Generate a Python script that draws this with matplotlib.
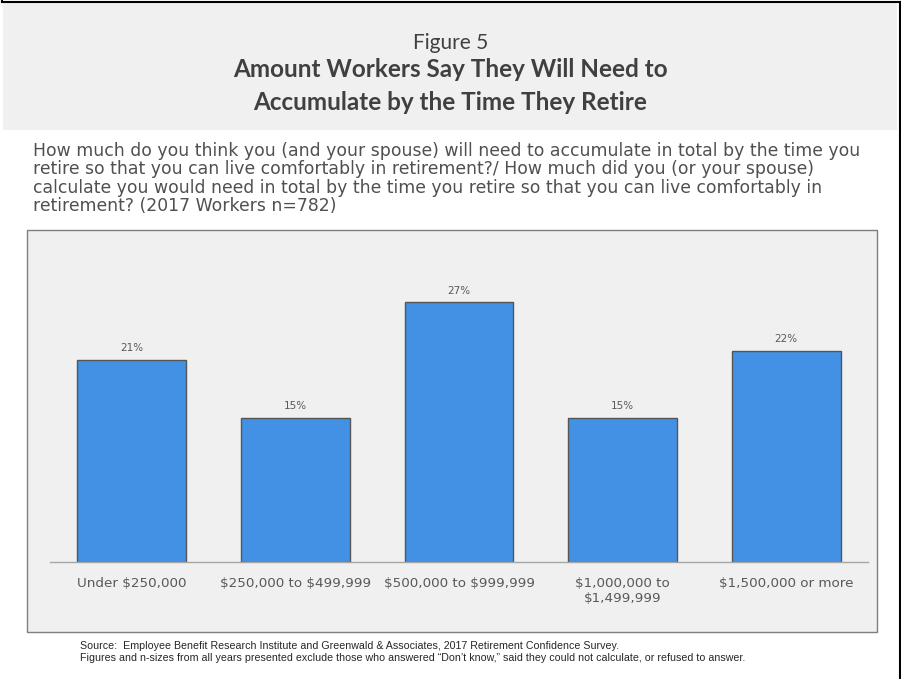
import matplotlib
matplotlib.use("Agg")
import matplotlib.pyplot as plt
from matplotlib.patches import Rectangle
from matplotlib.lines import Line2D

# data
categories = ["Under $250,000", "$250,000 to $499,999", "$500,000 to $999,999",
              "$1,000,000 to\n$1,499,999", "$1,500,000 or more"]
values = [21, 15, 27, 15, 22]

W, H = 901, 679
plt.rcParams['font.family'] = ['DejaVu Sans']
plt.rcParams['text.parse_math'] = False

fig = plt.figure(figsize=(W / 100, H / 100), dpi=100)
fig.patch.set_facecolor("white")

def fx(px):
    return px / W

def fy(py):
    return 1 - py / H

# outer frame (left, top, right)
for xs, ys in [([1.5, 1.5], [0, 1.5]), ([1.5, 899.5], [1.5, 1.5]), ([899.5, 899.5], [1.5, H])]:
    fig.add_artist(Line2D([fx(x) for x in xs], [fy(y) for y in ys], color="black", lw=1.5))

# header band
fig.add_artist(Rectangle((fx(3), fy(130)), fx(894), (127) / H, facecolor="#f0f0f0",
                         edgecolor="none", transform=fig.transFigure, zorder=0))
fig.text(0.5, fy(43), "Figure 5", ha="center", va="center", fontsize=15, color="#404040",
         family="Lato")
fig.text(0.5, fy(86), "Amount Workers Say They Will Need to\nAccumulate by the Time They Retire",
         ha="center", va="center", fontsize=17.5, fontweight="bold", color="#404040",
         linespacing=1.5, family="Lato")

question = ("How much do you think you (and your spouse) will need to accumulate in total by the time you\n"
            "retire so that you can live comfortably in retirement?/ How much did you (or your spouse)\n"
            "calculate you would need in total by the time you retire so that you can live comfortably in\n"
            "retirement? (2017 Workers n=782)")
fig.text(fx(33), fy(142), question, ha="left", va="top", fontsize=12.4, color="#505050",
         linespacing=1.03)

# chart panel
fig.add_artist(Rectangle((fx(27), fy(632)), fx(850), (632 - 230) / H, facecolor="#f0f0f0",
                         edgecolor="#7f7f7f", lw=1, transform=fig.transFigure, zorder=0))

ax = fig.add_axes([fx(50), fy(562), fx(818), (562 - 240) / H])
ax.set_facecolor("none")
x = list(range(len(categories)))
bars = ax.bar(x, values, width=0.665, color="#4291e5", edgecolor="#555555", linewidth=1)
for b, v in zip(bars, values):
    ax.annotate(f"{v}%", (b.get_x() + b.get_width() / 2, v), xytext=(0, 5),
                textcoords="offset points", ha="center", va="bottom", fontsize=7.5, color="#595959")
ax.set_xlim(-0.5, 4.5)
ax.set_ylim(0, 33.5)
ax.set_xticks(x)
ax.set_xticklabels(categories, fontsize=9.7, color="#595959", linespacing=1.2)
ax.tick_params(axis="x", length=0, pad=11)
ax.set_yticks([])
for s in ["top", "left", "right"]:
    ax.spines[s].set_visible(False)
ax.spines["bottom"].set_color("#a6a6a6")
ax.spines["bottom"].set_linewidth(1)

fig.text(fx(80), fy(646), "Source:  Employee Benefit Research Institute and Greenwald & Associates, "
         "2017 Retirement Confidence Survey.", ha="left", va="center", fontsize=7.7,
         color="#262626", family="Liberation Sans")
fig.text(fx(80), fy(658), "Figures and n-sizes from all years presented exclude those who answered "
         "\u201cDon\u2019t know,\u201d said they could not calculate, or refused to answer.",
         ha="left", va="center", fontsize=7.7, color="#262626", family="Liberation Sans")

fig.savefig("out.png", dpi=100)
